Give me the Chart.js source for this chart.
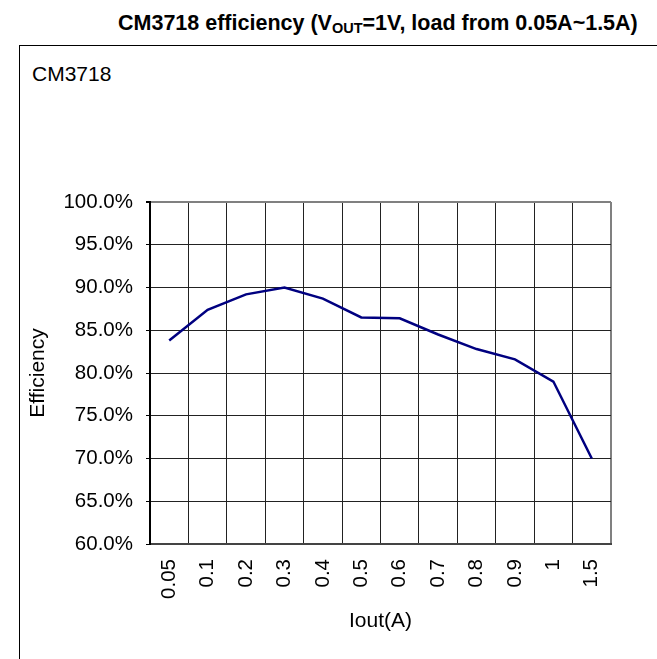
<!DOCTYPE html>
<html>
<head>
<meta charset="utf-8">
<script src="https://cdn.jsdelivr.net/npm/chart.js@4"></script>
<style>
  body { margin: 0; background: #fff; font-family: "Liberation Sans", Arial, sans-serif; }
  #wrap { position: relative; width: 657px; height: 659px; overflow: hidden; }
  #title { position: absolute; left: 118px; top: 11px; font-weight: bold; font-size: 21.5px; white-space: nowrap; color: #000; }
  #title sub { font-size: 14.5px; vertical-align: -3px; line-height: 0; }
  #box { position: absolute; left: 19px; top: 45px; width: 700px; height: 700px; border-top: 1px solid #000; border-left: 1px solid #000; }
  #name { position: absolute; left: 32px; top: 62px; font-size: 21px; color: #000; }
  canvas { position: absolute; left: 0; top: 0; }
</style>
</head>
<body>
<div id="wrap">
  <div id="title">CM3718 efficiency (V<sub>OUT</sub>=1V, load from 0.05A~1.5A)</div>
  <div id="box"></div>
  <div id="name">CM3718</div>
  <canvas id="effChart" width="657" height="659"></canvas>
</div>
<script>
const loadLabels = ['0.05', '0.1', '0.2', '0.3', '0.4', '0.5', '0.6', '0.7', '0.8', '0.9', '1', '1.5'];
const efficiency = [83.8, 87.4, 89.2, 90.0, 88.7, 86.5, 86.4, 84.5, 82.8, 81.6, 79.0, 70.0];
const yMin = 60;
const yMax = 100;
const yStep = 5;

const font = 'Liberation Sans, Arial, sans-serif';
const ctx = document.getElementById('effChart').getContext('2d');

const effChart = new Chart(ctx, {
  type: 'line',
  data: {
    labels: loadLabels,
    datasets: [{
      label: 'CM3718',
      data: efficiency,
      borderColor: '#000080',
      borderWidth: 2.5,
      pointRadius: 0,
      tension: 0,
      fill: false
    }]
  },
  options: {
    responsive: false,
    animation: false,
    layout: {
      padding: { left: 20, top: 202, right: 46, bottom: 0 }
    },
    scales: {
      x: {
        offset: true,
        afterFit: (s) => { s.height = 115; },
        grid: {
          offset: true,
          drawTicks: false,
          color: (c) => c.index === undefined ? '#808080' : '#222',
          lineWidth: (c) => c.index === undefined ? 2 : 1
        },
        border: { display: true, color: '#444', width: 2 },
        ticks: {
          color: '#000',
          font: { family: font, size: 20.5 },
          minRotation: 90,
          maxRotation: 90,
          padding: 15,
          autoSkip: false
        },
        title: {
          display: true,
          text: 'Iout(A)',
          color: '#000',
          font: { family: font, size: 21 },
          padding: { top: 0, bottom: 25 }
        }
      },
      y: {
        min: yMin,
        max: yMax,
        afterFit: (s) => { s.width = 130; },
        grid: {
          color: (c) => c.tick && c.tick.value === yMax ? '#808080' : '#222',
          lineWidth: (c) => c.tick && c.tick.value === yMax ? 2 : 1,
          tickColor: '#000',
          tickLength: 4
        },
        border: { display: true, color: '#000', width: 2 },
        ticks: {
          stepSize: yStep,
          color: '#000',
          font: { family: font, size: 20.5 },
          padding: 13,
          callback: (v) => v.toFixed(1) + '%'
        },
        title: {
          display: true,
          text: 'Efficiency',
          color: '#000',
          font: { family: font, size: 21 },
          padding: { top: 6, bottom: 0 }
        }
      }
    },
    plugins: {
      legend: { display: false },
      tooltip: { enabled: false }
    }
  }
});
</script>
</body>
</html>
